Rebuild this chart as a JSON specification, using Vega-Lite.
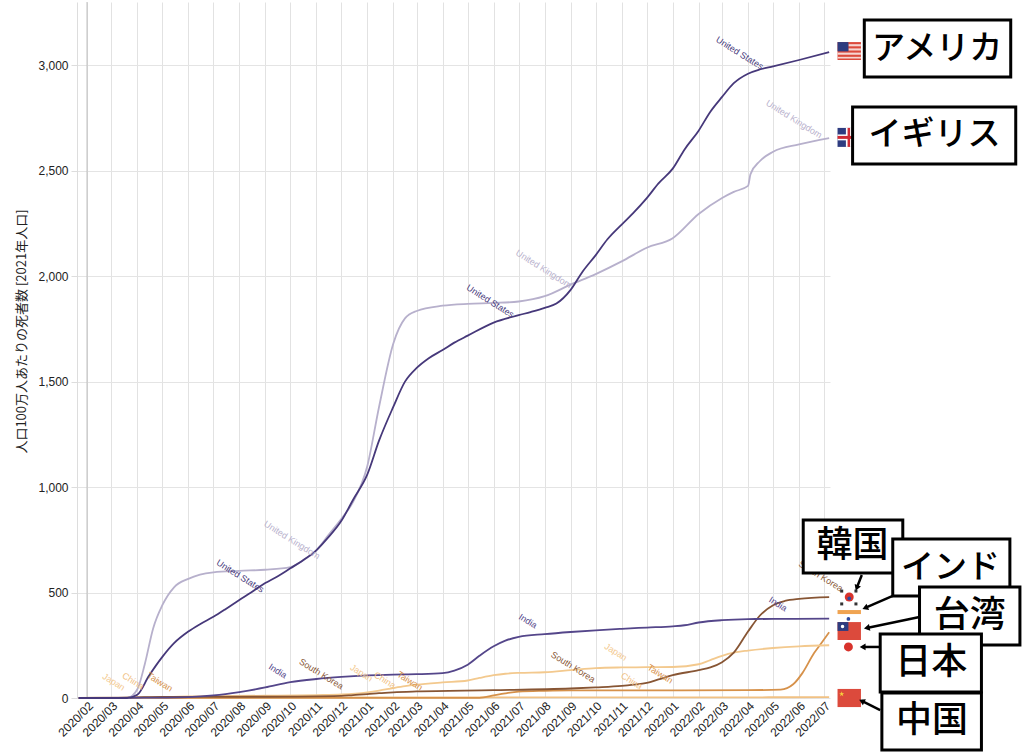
{
  "$schema": "https://vega.github.io/schema/vega-lite/v6.json",
  "description": "Cumulative COVID-19 deaths per million people, 2020/02 - 2022/07, with country call-outs",
  "width": 753,
  "height": 696,
  "autosize": "none",
  "padding": {"left": 77, "top": 2, "right": 194, "bottom": 58},
  "background": "white",
  "config": {
    "view": {"stroke": null},
    "font": "Liberation Sans",
    "axis": {"labelFont": "Liberation Sans", "labelColor": "#222", "gridColor": "#e4e4e4"}
  },
  "datasets": {
    "deaths": [
      {"country": "China", "date": "2020-01-22", "value": 0},
      {"country": "China", "date": "2020-02-15", "value": 1.2},
      {"country": "China", "date": "2020-03-01", "value": 2},
      {"country": "China", "date": "2020-04-01", "value": 2.3},
      {"country": "China", "date": "2020-04-20", "value": 3.2},
      {"country": "China", "date": "2022-04-01", "value": 3.3},
      {"country": "China", "date": "2022-05-15", "value": 3.6},
      {"country": "China", "date": "2022-07-07", "value": 3.7},

      {"country": "Taiwan", "date": "2020-01-22", "value": 0},
      {"country": "Taiwan", "date": "2021-05-10", "value": 0.5},
      {"country": "Taiwan", "date": "2021-05-20", "value": 3},
      {"country": "Taiwan", "date": "2021-06-01", "value": 12},
      {"country": "Taiwan", "date": "2021-06-15", "value": 22},
      {"country": "Taiwan", "date": "2021-07-01", "value": 30},
      {"country": "Taiwan", "date": "2021-08-01", "value": 34},
      {"country": "Taiwan", "date": "2021-09-01", "value": 36},
      {"country": "Taiwan", "date": "2022-01-01", "value": 36},
      {"country": "Taiwan", "date": "2022-04-01", "value": 37},
      {"country": "Taiwan", "date": "2022-05-10", "value": 40},
      {"country": "Taiwan", "date": "2022-05-25", "value": 65},
      {"country": "Taiwan", "date": "2022-06-05", "value": 118},
      {"country": "Taiwan", "date": "2022-06-19", "value": 213},
      {"country": "Taiwan", "date": "2022-06-28", "value": 262},
      {"country": "Taiwan", "date": "2022-07-07", "value": 312},

      {"country": "Japan", "date": "2020-01-22", "value": 0},
      {"country": "Japan", "date": "2020-04-01", "value": 1},
      {"country": "Japan", "date": "2020-06-01", "value": 7},
      {"country": "Japan", "date": "2020-09-01", "value": 11},
      {"country": "Japan", "date": "2020-11-01", "value": 14},
      {"country": "Japan", "date": "2020-12-01", "value": 17},
      {"country": "Japan", "date": "2021-01-01", "value": 27},
      {"country": "Japan", "date": "2021-01-15", "value": 35},
      {"country": "Japan", "date": "2021-02-01", "value": 47},
      {"country": "Japan", "date": "2021-02-15", "value": 56},
      {"country": "Japan", "date": "2021-03-01", "value": 63},
      {"country": "Japan", "date": "2021-04-01", "value": 74},
      {"country": "Japan", "date": "2021-05-01", "value": 83},
      {"country": "Japan", "date": "2021-05-15", "value": 95},
      {"country": "Japan", "date": "2021-06-01", "value": 108},
      {"country": "Japan", "date": "2021-06-15", "value": 115},
      {"country": "Japan", "date": "2021-07-01", "value": 119},
      {"country": "Japan", "date": "2021-08-01", "value": 122},
      {"country": "Japan", "date": "2021-09-01", "value": 132},
      {"country": "Japan", "date": "2021-10-01", "value": 142},
      {"country": "Japan", "date": "2021-11-01", "value": 145},
      {"country": "Japan", "date": "2021-12-01", "value": 146},
      {"country": "Japan", "date": "2022-01-01", "value": 147},
      {"country": "Japan", "date": "2022-02-01", "value": 160},
      {"country": "Japan", "date": "2022-02-15", "value": 180},
      {"country": "Japan", "date": "2022-03-01", "value": 200},
      {"country": "Japan", "date": "2022-03-15", "value": 215},
      {"country": "Japan", "date": "2022-04-01", "value": 225},
      {"country": "Japan", "date": "2022-05-01", "value": 237},
      {"country": "Japan", "date": "2022-06-01", "value": 245},
      {"country": "Japan", "date": "2022-07-07", "value": 250},

      {"country": "South Korea", "date": "2020-01-22", "value": 0},
      {"country": "South Korea", "date": "2020-03-01", "value": 0.5},
      {"country": "South Korea", "date": "2020-04-01", "value": 3},
      {"country": "South Korea", "date": "2020-05-01", "value": 5},
      {"country": "South Korea", "date": "2020-09-01", "value": 6},
      {"country": "South Korea", "date": "2020-12-01", "value": 10},
      {"country": "South Korea", "date": "2020-12-15", "value": 14},
      {"country": "South Korea", "date": "2021-01-01", "value": 18},
      {"country": "South Korea", "date": "2021-01-15", "value": 23},
      {"country": "South Korea", "date": "2021-02-01", "value": 27},
      {"country": "South Korea", "date": "2021-03-01", "value": 31},
      {"country": "South Korea", "date": "2021-06-01", "value": 37},
      {"country": "South Korea", "date": "2021-09-01", "value": 45},
      {"country": "South Korea", "date": "2021-10-01", "value": 50},
      {"country": "South Korea", "date": "2021-11-01", "value": 57},
      {"country": "South Korea", "date": "2021-11-15", "value": 63},
      {"country": "South Korea", "date": "2021-12-01", "value": 72},
      {"country": "South Korea", "date": "2021-12-15", "value": 88},
      {"country": "South Korea", "date": "2022-01-01", "value": 108},
      {"country": "South Korea", "date": "2022-02-01", "value": 132},
      {"country": "South Korea", "date": "2022-02-15", "value": 145},
      {"country": "South Korea", "date": "2022-03-01", "value": 170},
      {"country": "South Korea", "date": "2022-03-15", "value": 215},
      {"country": "South Korea", "date": "2022-04-01", "value": 315},
      {"country": "South Korea", "date": "2022-04-15", "value": 390},
      {"country": "South Korea", "date": "2022-05-01", "value": 440},
      {"country": "South Korea", "date": "2022-05-15", "value": 460},
      {"country": "South Korea", "date": "2022-06-01", "value": 470},
      {"country": "South Korea", "date": "2022-07-07", "value": 478},

      {"country": "India", "date": "2020-01-22", "value": 0},
      {"country": "India", "date": "2020-05-01", "value": 2},
      {"country": "India", "date": "2020-06-01", "value": 4},
      {"country": "India", "date": "2020-07-01", "value": 12},
      {"country": "India", "date": "2020-08-01", "value": 28},
      {"country": "India", "date": "2020-09-01", "value": 50},
      {"country": "India", "date": "2020-10-01", "value": 75},
      {"country": "India", "date": "2020-11-01", "value": 90},
      {"country": "India", "date": "2020-12-01", "value": 100},
      {"country": "India", "date": "2021-01-01", "value": 107},
      {"country": "India", "date": "2021-02-01", "value": 111},
      {"country": "India", "date": "2021-03-01", "value": 113},
      {"country": "India", "date": "2021-04-01", "value": 118},
      {"country": "India", "date": "2021-04-15", "value": 130},
      {"country": "India", "date": "2021-05-01", "value": 158},
      {"country": "India", "date": "2021-05-15", "value": 200},
      {"country": "India", "date": "2021-06-01", "value": 245},
      {"country": "India", "date": "2021-06-15", "value": 272},
      {"country": "India", "date": "2021-07-01", "value": 290},
      {"country": "India", "date": "2021-08-01", "value": 303},
      {"country": "India", "date": "2021-09-01", "value": 313},
      {"country": "India", "date": "2021-10-01", "value": 321},
      {"country": "India", "date": "2021-11-01", "value": 328},
      {"country": "India", "date": "2021-12-01", "value": 334},
      {"country": "India", "date": "2022-01-01", "value": 340},
      {"country": "India", "date": "2022-01-15", "value": 345},
      {"country": "India", "date": "2022-02-01", "value": 358},
      {"country": "India", "date": "2022-03-01", "value": 369},
      {"country": "India", "date": "2022-04-01", "value": 374},
      {"country": "India", "date": "2022-05-01", "value": 375},
      {"country": "India", "date": "2022-07-07", "value": 376},

      {"country": "United Kingdom", "date": "2020-01-22", "value": 0},
      {"country": "United Kingdom", "date": "2020-03-20", "value": 0},
      {"country": "United Kingdom", "date": "2020-04-01", "value": 40},
      {"country": "United Kingdom", "date": "2020-04-10", "value": 160},
      {"country": "United Kingdom", "date": "2020-04-20", "value": 330},
      {"country": "United Kingdom", "date": "2020-05-01", "value": 440},
      {"country": "United Kingdom", "date": "2020-05-15", "value": 525},
      {"country": "United Kingdom", "date": "2020-06-01", "value": 565},
      {"country": "United Kingdom", "date": "2020-06-15", "value": 585},
      {"country": "United Kingdom", "date": "2020-07-01", "value": 596},
      {"country": "United Kingdom", "date": "2020-08-01", "value": 603},
      {"country": "United Kingdom", "date": "2020-09-01", "value": 608},
      {"country": "United Kingdom", "date": "2020-10-01", "value": 620},
      {"country": "United Kingdom", "date": "2020-10-15", "value": 650},
      {"country": "United Kingdom", "date": "2020-11-01", "value": 700},
      {"country": "United Kingdom", "date": "2020-11-15", "value": 770},
      {"country": "United Kingdom", "date": "2020-12-01", "value": 850},
      {"country": "United Kingdom", "date": "2020-12-15", "value": 930},
      {"country": "United Kingdom", "date": "2021-01-01", "value": 1100},
      {"country": "United Kingdom", "date": "2021-01-15", "value": 1380},
      {"country": "United Kingdom", "date": "2021-02-01", "value": 1680},
      {"country": "United Kingdom", "date": "2021-02-15", "value": 1800},
      {"country": "United Kingdom", "date": "2021-03-01", "value": 1835},
      {"country": "United Kingdom", "date": "2021-04-01", "value": 1860},
      {"country": "United Kingdom", "date": "2021-05-01", "value": 1869},
      {"country": "United Kingdom", "date": "2021-06-01", "value": 1873},
      {"country": "United Kingdom", "date": "2021-07-01", "value": 1880},
      {"country": "United Kingdom", "date": "2021-08-01", "value": 1905},
      {"country": "United Kingdom", "date": "2021-09-01", "value": 1960},
      {"country": "United Kingdom", "date": "2021-10-01", "value": 2010},
      {"country": "United Kingdom", "date": "2021-11-01", "value": 2070},
      {"country": "United Kingdom", "date": "2021-12-01", "value": 2135},
      {"country": "United Kingdom", "date": "2022-01-01", "value": 2180},
      {"country": "United Kingdom", "date": "2022-02-01", "value": 2295},
      {"country": "United Kingdom", "date": "2022-03-01", "value": 2371},
      {"country": "United Kingdom", "date": "2022-03-15", "value": 2400},
      {"country": "United Kingdom", "date": "2022-04-01", "value": 2428},
      {"country": "United Kingdom", "date": "2022-04-04", "value": 2484},
      {"country": "United Kingdom", "date": "2022-04-15", "value": 2545},
      {"country": "United Kingdom", "date": "2022-05-01", "value": 2590},
      {"country": "United Kingdom", "date": "2022-06-01", "value": 2625},
      {"country": "United Kingdom", "date": "2022-07-07", "value": 2655},

      {"country": "United States", "date": "2020-01-22", "value": 0},
      {"country": "United States", "date": "2020-03-20", "value": 0},
      {"country": "United States", "date": "2020-04-01", "value": 15},
      {"country": "United States", "date": "2020-04-15", "value": 105},
      {"country": "United States", "date": "2020-05-01", "value": 195},
      {"country": "United States", "date": "2020-05-15", "value": 260},
      {"country": "United States", "date": "2020-06-01", "value": 315},
      {"country": "United States", "date": "2020-06-15", "value": 350},
      {"country": "United States", "date": "2020-07-01", "value": 385},
      {"country": "United States", "date": "2020-07-15", "value": 420},
      {"country": "United States", "date": "2020-08-01", "value": 465},
      {"country": "United States", "date": "2020-08-15", "value": 500},
      {"country": "United States", "date": "2020-09-01", "value": 545},
      {"country": "United States", "date": "2020-09-15", "value": 575},
      {"country": "United States", "date": "2020-10-01", "value": 615},
      {"country": "United States", "date": "2020-10-15", "value": 650},
      {"country": "United States", "date": "2020-11-01", "value": 700},
      {"country": "United States", "date": "2020-11-15", "value": 760},
      {"country": "United States", "date": "2020-12-01", "value": 840},
      {"country": "United States", "date": "2020-12-15", "value": 940},
      {"country": "United States", "date": "2021-01-01", "value": 1060},
      {"country": "United States", "date": "2021-01-15", "value": 1220},
      {"country": "United States", "date": "2021-02-01", "value": 1380},
      {"country": "United States", "date": "2021-02-15", "value": 1500},
      {"country": "United States", "date": "2021-03-01", "value": 1565},
      {"country": "United States", "date": "2021-03-15", "value": 1610},
      {"country": "United States", "date": "2021-04-01", "value": 1650},
      {"country": "United States", "date": "2021-04-15", "value": 1685},
      {"country": "United States", "date": "2021-05-01", "value": 1718},
      {"country": "United States", "date": "2021-06-01", "value": 1780},
      {"country": "United States", "date": "2021-07-01", "value": 1815},
      {"country": "United States", "date": "2021-07-15", "value": 1830},
      {"country": "United States", "date": "2021-08-01", "value": 1850},
      {"country": "United States", "date": "2021-08-15", "value": 1870},
      {"country": "United States", "date": "2021-09-01", "value": 1935},
      {"country": "United States", "date": "2021-09-15", "value": 2020},
      {"country": "United States", "date": "2021-10-01", "value": 2100},
      {"country": "United States", "date": "2021-10-15", "value": 2175},
      {"country": "United States", "date": "2021-11-01", "value": 2245},
      {"country": "United States", "date": "2021-11-15", "value": 2300},
      {"country": "United States", "date": "2021-12-01", "value": 2370},
      {"country": "United States", "date": "2021-12-15", "value": 2440},
      {"country": "United States", "date": "2022-01-01", "value": 2510},
      {"country": "United States", "date": "2022-01-15", "value": 2600},
      {"country": "United States", "date": "2022-02-01", "value": 2690},
      {"country": "United States", "date": "2022-02-15", "value": 2780},
      {"country": "United States", "date": "2022-03-01", "value": 2850},
      {"country": "United States", "date": "2022-03-15", "value": 2915},
      {"country": "United States", "date": "2022-04-01", "value": 2960},
      {"country": "United States", "date": "2022-04-15", "value": 2980},
      {"country": "United States", "date": "2022-05-01", "value": 2995},
      {"country": "United States", "date": "2022-06-01", "value": 3025},
      {"country": "United States", "date": "2022-07-07", "value": 3062}
    ],
    "lineLabels": [
      {"country": "United States", "date": "2020-08-02", "value": 578},
      {"country": "United States", "date": "2021-05-28", "value": 1882},
      {"country": "United States", "date": "2022-03-22", "value": 3058},
      {"country": "United Kingdom", "date": "2020-10-03", "value": 749},
      {"country": "United Kingdom", "date": "2021-07-31", "value": 2034},
      {"country": "United Kingdom", "date": "2022-05-26", "value": 2745},
      {"country": "India", "date": "2020-09-16", "value": 128},
      {"country": "India", "date": "2021-07-12", "value": 365},
      {"country": "India", "date": "2022-05-07", "value": 446},
      {"country": "South Korea", "date": "2020-11-07", "value": 114},
      {"country": "South Korea", "date": "2021-09-04", "value": 147},
      {"country": "South Korea", "date": "2022-06-27", "value": 578},
      {"country": "Japan", "date": "2020-03-04", "value": 76},
      {"country": "Japan", "date": "2020-12-25", "value": 119},
      {"country": "Japan", "date": "2021-10-25", "value": 218},
      {"country": "China", "date": "2020-03-27", "value": 81},
      {"country": "China", "date": "2021-01-22", "value": 85},
      {"country": "China", "date": "2021-11-13", "value": 81},
      {"country": "Taiwan", "date": "2020-04-28", "value": 76},
      {"country": "Taiwan", "date": "2021-02-21", "value": 81},
      {"country": "Taiwan", "date": "2021-12-17", "value": 114}
    ],
    "callouts": [
      {"name": "アメリカ", "script": "kana", "date": "2022-08-18", "date2": "2023-02-09", "value": 3215, "value2": 2944, "textDate": "2022-11-13", "textValue": 3077},
      {"name": "イギリス", "script": "kana", "date": "2022-08-04", "date2": "2023-02-15", "value": 2802, "value2": 2532, "textDate": "2022-11-10", "textValue": 2669},
      {"name": "韓国", "script": "kanji", "date": "2022-06-06", "date2": "2022-10-03", "value": 844, "value2": 593, "textDate": "2022-08-04", "textValue": 721},
      {"name": "インド", "script": "kana", "date": "2022-09-21", "date2": "2023-02-08", "value": 754, "value2": 484, "textDate": "2022-11-29", "textValue": 616},
      {"name": "台湾", "script": "kanji", "date": "2022-10-23", "date2": "2023-02-20", "value": 526, "value2": 251, "textDate": "2022-12-22", "textValue": 389},
      {"name": "日本", "script": "kanji", "date": "2022-09-06", "date2": "2023-01-05", "value": 304, "value2": 29, "textDate": "2022-11-06", "textValue": 166},
      {"name": "中国", "script": "kanji", "date": "2022-09-08", "date2": "2023-01-05", "value": 24, "value2": -246, "textDate": "2022-11-07", "textValue": -109}
    ],
    "arrows": [
      {"name": "韓国", "date": "2022-08-15", "value": 583, "date2": "2022-08-09", "value2": 522},
      {"name": "インド", "date": "2022-09-21", "value": 484, "date2": "2022-08-19", "value2": 427},
      {"name": "台湾", "date": "2022-10-23", "value": 384, "date2": "2022-08-21", "value2": 332},
      {"name": "日本", "date": "2022-09-06", "value": 242, "date2": "2022-08-16", "value2": 242},
      {"name": "中国", "date": "2022-09-06", "value": -57, "date2": "2022-08-15", "value2": -14}
    ]
  },
  "layer": [
    {
      "data": {"values": [{"date": "2020-02-01"}]},
      "mark": {"type": "rule", "color": "#bdbdbd", "strokeWidth": 1},
      "encoding": {
        "x": {
          "field": "date",
          "type": "temporal",
          "scale": {"domain": ["2020-01-20", "2022-07-08"], "nice": false},
          "axis": {
            "title": null,
            "format": "%Y/%m",
            "tickCount": {"interval": "month", "step": 1},
            "labelAngle": -45,
            "labelAlign": "right",
            "labelBaseline": "top",
            "labelFontSize": 12,
            "labelOverlap": false,
            "labelFlush": false,
            "labelPadding": 2,
            "ticks": false,
            "domain": false,
            "grid": true,
            "gridColor": "#e2e2e2"
          }
        }
      }
    },
    {
      "data": {"name": "deaths"},
      "mark": {"type": "line", "interpolate": "monotone", "strokeWidth": 1.8},
      "encoding": {
        "x": {"field": "date", "type": "temporal"},
        "y": {
          "field": "value",
          "type": "quantitative",
          "scale": {"domain": [0, 3300], "nice": false},
          "axis": {
            "title": "人口100万人あたりの死者数 [2021年人口]",
            "titleFont": "Noto Sans CJK JP",
            "titleFontSize": 13,
            "titleFontWeight": "normal",
            "titleColor": "#222",
            "titleX": -56,
            "titleY": 329,
            "titleBaseline": "middle",
            "values": [0, 500, 1000, 1500, 2000, 2500, 3000],
            "format": ",d",
            "labelFontSize": 12,
            "labelPadding": 3,
            "tickSize": 6,
            "tickColor": "#dddddd",
            "domainColor": "#dddddd",
            "gridColor": "#e4e4e4"
          }
        },
        "color": {
          "field": "country",
          "type": "nominal",
          "legend": null,
          "scale": {
            "domain": ["United States", "United Kingdom", "India", "South Korea", "Japan", "Taiwan", "China"],
            "range": ["#46387a", "#b7b0cc", "#54468a", "#875534", "#f3c98e", "#d6914a", "#f1c183"]
          }
        },
        "detail": {"field": "country"}
      }
    },
    {
      "data": {"name": "lineLabels"},
      "mark": {"type": "text", "angle": 32, "fontSize": 9, "font": "Liberation Sans", "align": "center", "baseline": "middle"},
      "encoding": {
        "x": {"field": "date", "type": "temporal"},
        "y": {"field": "value", "type": "quantitative"},
        "text": {"field": "country"},
        "color": {"field": "country", "type": "nominal", "legend": null}
      }
    },
    {
      "data": {"values": [
        {"flag": "US", "date": "2022-07-17", "date2": "2022-08-14", "value": 3110, "value2": 3025},
        {"flag": "Taiwan", "date": "2022-07-17", "date2": "2022-08-14", "value": 360, "value2": 275},
        {"flag": "China", "date": "2022-07-17", "date2": "2022-08-14", "value": 43, "value2": -43}
      ]},
      "mark": {"type": "rect", "fill": "#dc4a3c"},
      "encoding": {
        "x": {"field": "date", "type": "temporal"},
        "x2": {"field": "date2"},
        "y": {"field": "value", "type": "quantitative"},
        "y2": {"field": "value2"}
      }
    },
    {
      "data": {"values": [
        {"flag": "US stripe", "date": "2022-07-30", "date2": "2022-08-14", "value": 3100, "value2": 3090},
        {"flag": "US stripe", "date": "2022-07-30", "date2": "2022-08-14", "value": 3080, "value2": 3070},
        {"flag": "US stripe", "date": "2022-07-17", "date2": "2022-08-14", "value": 3060, "value2": 3050},
        {"flag": "US stripe", "date": "2022-07-17", "date2": "2022-08-14", "value": 3040, "value2": 3032}
      ]},
      "mark": {"type": "rect", "fill": "#f6d6d2"},
      "encoding": {
        "x": {"field": "date", "type": "temporal"},
        "x2": {"field": "date2"},
        "y": {"field": "value", "type": "quantitative"},
        "y2": {"field": "value2"}
      }
    },
    {
      "data": {"values": [
        {"flag": "US canton", "date": "2022-07-17", "date2": "2022-07-30", "value": 3110, "value2": 3066},
        {"flag": "UK", "date": "2022-07-17", "date2": "2022-08-14", "value": 2703, "value2": 2613},
        {"flag": "Taiwan canton", "date": "2022-07-17", "date2": "2022-07-30", "value": 360, "value2": 318}
      ]},
      "mark": {"type": "rect", "fill": "#2e3c80"},
      "encoding": {
        "x": {"field": "date", "type": "temporal"},
        "x2": {"field": "date2"},
        "y": {"field": "value", "type": "quantitative"},
        "y2": {"field": "value2"}
      }
    },
    {
      "data": {"values": [
        {"flag": "UK cross", "date": "2022-07-17", "date2": "2022-08-14", "value": 2672, "value2": 2644},
        {"flag": "UK cross", "date": "2022-07-27", "date2": "2022-08-03", "value": 2703, "value2": 2613}
      ]},
      "mark": {"type": "rect", "fill": "#ffffff"},
      "encoding": {
        "x": {"field": "date", "type": "temporal"},
        "x2": {"field": "date2"},
        "y": {"field": "value", "type": "quantitative"},
        "y2": {"field": "value2"}
      }
    },
    {
      "data": {"values": [
        {"flag": "UK cross", "date": "2022-07-17", "date2": "2022-08-14", "value": 2665, "value2": 2651},
        {"flag": "UK cross", "date": "2022-07-29", "date2": "2022-08-01", "value": 2703, "value2": 2613}
      ]},
      "mark": {"type": "rect", "fill": "#cf2b35"},
      "encoding": {
        "x": {"field": "date", "type": "temporal"},
        "x2": {"field": "date2"},
        "y": {"field": "value", "type": "quantitative"},
        "y2": {"field": "value2"}
      }
    },
    {
      "data": {"values": [
        {"flag": "India", "date": "2022-07-17", "date2": "2022-08-14", "value": 417, "value2": 398}
      ]},
      "mark": {"type": "rect", "fill": "#f0a452"},
      "encoding": {
        "x": {"field": "date", "type": "temporal"},
        "x2": {"field": "date2"},
        "y": {"field": "value", "type": "quantitative"},
        "y2": {"field": "value2"}
      }
    },
    {
      "data": {"values": [
        {"flag": "Korea", "date": "2022-07-31", "value": 479},
        {"flag": "Japan", "date": "2022-07-30", "value": 242}
      ]},
      "mark": {"type": "point", "filled": true, "size": 80, "color": "#d8332c", "opacity": 1},
      "encoding": {
        "x": {"field": "date", "type": "temporal"},
        "y": {"field": "value", "type": "quantitative"}
      }
    },
    {
      "data": {"values": [
        {"flag": "Korea", "date": "2022-07-31", "value": 472},
        {"flag": "India", "date": "2022-07-30", "value": 375}
      ]},
      "mark": {"type": "point", "filled": true, "size": 14, "color": "#2f4aa0", "opacity": 1},
      "encoding": {
        "x": {"field": "date", "type": "temporal"},
        "y": {"field": "value", "type": "quantitative"}
      }
    },
    {
      "data": {"values": [
        {"flag": "Korea", "date": "2022-07-22", "value": 507},
        {"flag": "Korea", "date": "2022-08-08", "value": 507},
        {"flag": "Korea", "date": "2022-07-22", "value": 446},
        {"flag": "Korea", "date": "2022-08-08", "value": 446}
      ]},
      "mark": {"type": "point", "filled": true, "shape": "square", "size": 9, "color": "#333333", "opacity": 1},
      "encoding": {
        "x": {"field": "date", "type": "temporal"},
        "y": {"field": "value", "type": "quantitative"}
      }
    },
    {
      "data": {"values": [
        {"flag": "Taiwan", "date": "2022-07-23", "value": 339}
      ]},
      "mark": {"type": "point", "filled": true, "size": 12, "color": "#ffffff", "opacity": 1},
      "encoding": {
        "x": {"field": "date", "type": "temporal"},
        "y": {"field": "value", "type": "quantitative"}
      }
    },
    {
      "data": {"values": [
        {"flag": "China", "date": "2022-07-22", "value": 19}
      ]},
      "mark": {
        "type": "point",
        "filled": true,
        "size": 30,
        "color": "#f7d43c",
        "opacity": 1,
        "shape": "M0,-1L0.2245,-0.309L0.951,-0.309L0.363,0.118L0.588,0.809L0,0.382L-0.588,0.809L-0.363,0.118L-0.951,-0.309L-0.2245,-0.309Z"
      },
      "encoding": {
        "x": {"field": "date", "type": "temporal"},
        "y": {"field": "value", "type": "quantitative"}
      }
    },
    {
      "data": {"name": "arrows"},
      "mark": {"type": "rule", "color": "black", "strokeWidth": 2.5},
      "encoding": {
        "x": {"field": "date", "type": "temporal"},
        "y": {"field": "value", "type": "quantitative"},
        "x2": {"field": "date2"},
        "y2": {"field": "value2"}
      }
    },
    {
      "data": {"name": "arrows"},
      "transform": [{"filter": "datum.name === '韓国'"}],
      "mark": {"type": "point", "shape": "triangle-up", "filled": true, "size": 45, "color": "black", "opacity": 1, "angle": 201},
      "encoding": {"x": {"field": "date2", "type": "temporal"}, "y": {"field": "value2", "type": "quantitative"}}
    },
    {
      "data": {"name": "arrows"},
      "transform": [{"filter": "datum.name === 'インド'"}],
      "mark": {"type": "point", "shape": "triangle-up", "filled": true, "size": 45, "color": "black", "opacity": 1, "angle": 247},
      "encoding": {"x": {"field": "date2", "type": "temporal"}, "y": {"field": "value2", "type": "quantitative"}}
    },
    {
      "data": {"name": "arrows"},
      "transform": [{"filter": "datum.name === '台湾'"}],
      "mark": {"type": "point", "shape": "triangle-up", "filled": true, "size": 45, "color": "black", "opacity": 1, "angle": 258},
      "encoding": {"x": {"field": "date2", "type": "temporal"}, "y": {"field": "value2", "type": "quantitative"}}
    },
    {
      "data": {"name": "arrows"},
      "transform": [{"filter": "datum.name === '日本'"}],
      "mark": {"type": "point", "shape": "triangle-up", "filled": true, "size": 45, "color": "black", "opacity": 1, "angle": 270},
      "encoding": {"x": {"field": "date2", "type": "temporal"}, "y": {"field": "value2", "type": "quantitative"}}
    },
    {
      "data": {"name": "arrows"},
      "transform": [{"filter": "datum.name === '中国'"}],
      "mark": {"type": "point", "shape": "triangle-up", "filled": true, "size": 45, "color": "black", "opacity": 1, "angle": 297},
      "encoding": {"x": {"field": "date2", "type": "temporal"}, "y": {"field": "value2", "type": "quantitative"}}
    },
    {
      "data": {"name": "callouts"},
      "mark": {"type": "rect", "fill": "white", "stroke": "black", "strokeWidth": 3},
      "encoding": {
        "x": {"field": "date", "type": "temporal"},
        "x2": {"field": "date2"},
        "y": {"field": "value", "type": "quantitative"},
        "y2": {"field": "value2"}
      }
    },
    {
      "data": {"name": "callouts"},
      "transform": [{"filter": "datum.script === 'kana'"}],
      "mark": {"type": "text", "font": "Noto Sans CJK JP", "fontSize": 33, "fontWeight": 500, "color": "black", "align": "center", "baseline": "middle"},
      "encoding": {
        "x": {"field": "textDate", "type": "temporal"},
        "y": {"field": "textValue", "type": "quantitative"},
        "text": {"field": "name"}
      }
    },
    {
      "data": {"name": "callouts"},
      "transform": [{"filter": "datum.script === 'kanji'"}],
      "mark": {"type": "text", "font": "Noto Sans CJK JP", "fontSize": 36, "fontWeight": 500, "color": "black", "align": "center", "baseline": "middle"},
      "encoding": {
        "x": {"field": "textDate", "type": "temporal"},
        "y": {"field": "textValue", "type": "quantitative"},
        "text": {"field": "name"}
      }
    }
  ]
}
